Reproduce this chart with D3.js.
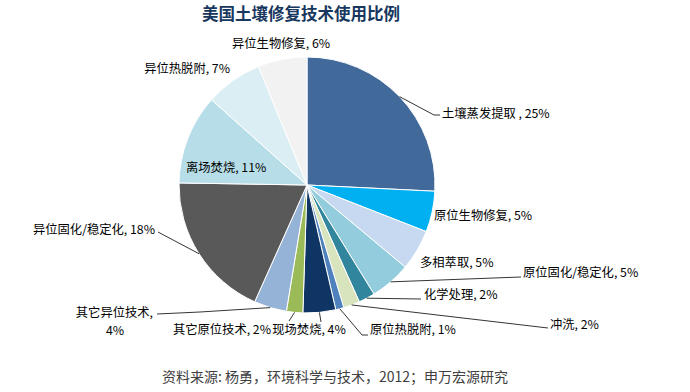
<!DOCTYPE html>
<html>
<head>
<meta charset="utf-8">
<script src="https://cdn.jsdelivr.net/npm/d3@7"></script>
<style>
  body { margin: 0; background: #fff; }
  text { font-family: "Noto Sans CJK SC", "Noto Sans", sans-serif; }
</style>
</head>
<body>
<div id="chart"></div>
<script>
// Data, clockwise from 12 o'clock
const categories = ["土壤蒸发提取", "原位生物修复", "多相萃取", "原位固化/稳定化", "化学处理", "冲洗",
  "原位热脱附", "现场焚烧", "其它原位技术", "其它异位技术", "异位固化/稳定化", "离场焚烧", "异位热脱附", "异位生物修复"];
const values = [25, 5, 5, 5, 2, 2, 1, 4, 2, 4, 18, 11, 7, 6];
const colors = ["#41699a", "#00b0f0", "#c6d9f0", "#93cddd", "#31859c", "#d7e4bd",
  "#4f81bd", "#0e3563", "#9bbb59", "#95b3d7", "#595959", "#b7dee8", "#dbeef4", "#f2f2f2"];

// Label layout: text position/anchor, and the elbow points of the leader line (if any)
const labelLayout = [
  { x: 442, y: 113, anchor: "start", line: [[434, 115], [440, 115]], sep: " , " },
  { x: 434, y: 215, anchor: "start" },
  { x: 420, y: 262, anchor: "start" },
  { x: 523, y: 272, anchor: "start", line: [[521, 277]] },
  { x: 424, y: 294, anchor: "start", line: [[421, 299]] },
  { x: 550, y: 324, anchor: "start", line: [[548, 328]] },
  { x: 370, y: 329, anchor: "start", line: [[362, 335], [368, 335]] },
  { x: 309, y: 329, anchor: "middle", line: [[321, 322]] },
  { x: 271, y: 329, anchor: "end", line: [[289, 321]] },
  { x: 153, y: 312, anchor: "end", line: [[200, 312], [157, 314]], twoLine: true },
  { x: 155, y: 229, anchor: "end", line: [[158, 232]] },
  { x: 186, y: 167, anchor: "start" },
  { x: 230, y: 68, anchor: "end" },
  { x: 232, y: 43, anchor: "start" }
];

const width = 690, height = 392;
const cx = 307, cy = 185, radius = 128;

const svg = d3.select("#chart").append("svg")
  .attr("width", width)
  .attr("height", height);

// Title
svg.append("text")
  .attr("x", 301)
  .attr("y", 13)
  .attr("text-anchor", "middle")
  .attr("dominant-baseline", "central")
  .style("font-size", "16.5px")
  .style("font-weight", "bold")
  .attr("fill", "#17375e")
  .text("美国土壤修复技术使用比例");

const pie = d3.pie().sort(null).value(d => d);
const arcs = pie(values);
const arc = d3.arc().innerRadius(0).outerRadius(radius);

const g = svg.append("g").attr("transform", `translate(${cx},${cy})`);

g.selectAll("path")
  .data(arcs)
  .enter().append("path")
  .attr("d", arc)
  .attr("fill", (d, i) => colors[i])
  .attr("stroke", "#fff")
  .attr("stroke-width", 1);

// Leader lines start on the rim at each slice's mid angle
const rimPoint = d => {
  const a = (d.startAngle + d.endAngle) / 2;
  return [cx + radius * Math.sin(a), cy - radius * Math.cos(a)];
};

arcs.forEach((d, i) => {
  const lay = labelLayout[i];
  if (lay.line) {
    const pts = [rimPoint(d)].concat(lay.line);
    svg.append("path")
      .attr("d", d3.line()(pts))
      .attr("fill", "none")
      .attr("stroke", "#000")
      .attr("stroke-width", 0.8);
  }
  const sep = lay.sep || ", ";
  const t = svg.append("text")
    .attr("x", lay.x)
    .attr("y", lay.y)
    .attr("text-anchor", lay.anchor)
    .attr("dominant-baseline", "central")
    .style("font-size", "12.3px")
    .attr("fill", "#000");
  if (lay.twoLine) {
    t.text(categories[i] + ",");
    svg.append("text")
      .attr("x", 115)
      .attr("y", lay.y + 18)
      .attr("text-anchor", "middle")
      .attr("dominant-baseline", "central")
      .style("font-size", "12.3px")
      .attr("fill", "#000")
      .text(values[i] + "%");
  } else {
    t.text(categories[i] + sep + values[i] + "%");
  }
});

// Source note
svg.append("text")
  .attr("x", 162)
  .attr("y", 376)
  .attr("dominant-baseline", "central")
  .style("font-size", "14px")
  .attr("fill", "#404040")
  .text("资料来源: 杨勇，环境科学与技术，2012；申万宏源研究");
</script>
</body>
</html>
